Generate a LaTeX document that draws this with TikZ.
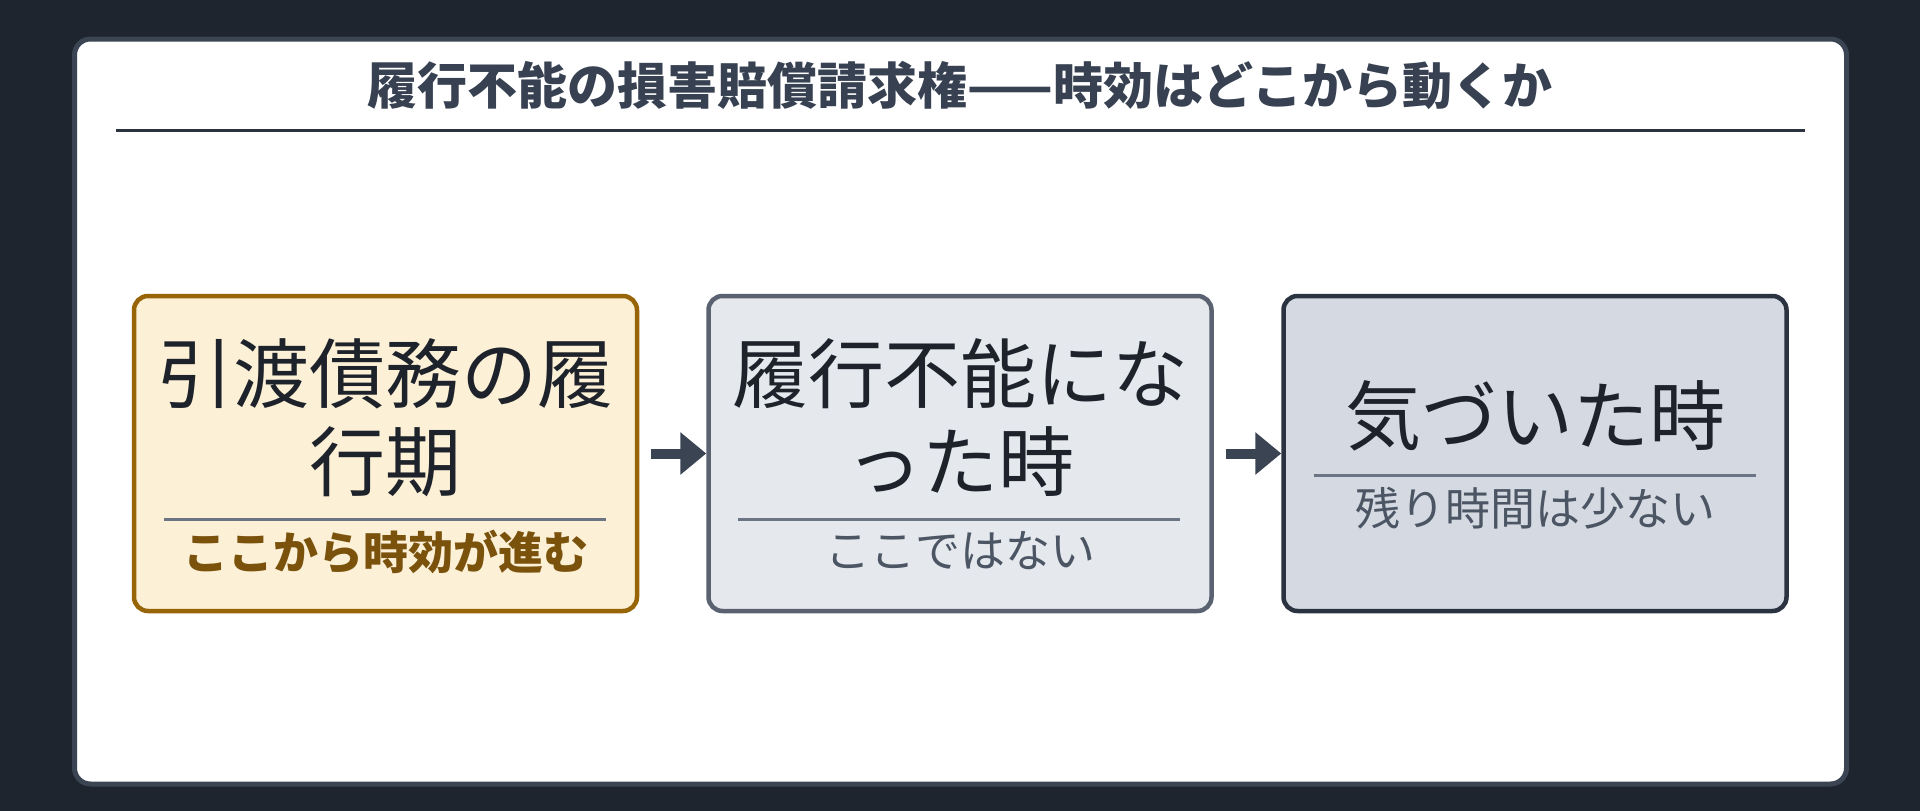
\documentclass[tikz,border=0pt]{standalone}
\usepackage{fontspec}
\setmainfont{Noto Sans CJK JP}
\usetikzlibrary{arrows.meta}
\definecolor{bgdark}{HTML}{1E252F}
\definecolor{panelborder}{HTML}{3B4452}
\definecolor{titlecol}{HTML}{374151}
\definecolor{ruledark}{HTML}{2B3341}
\definecolor{maintext}{HTML}{1E232B}
\definecolor{subgray}{HTML}{4B5563}
\definecolor{subbrown}{HTML}{7A520C}
\definecolor{sepgray}{HTML}{6B7585}
\definecolor{boxAfill}{HTML}{FCF0D6}
\definecolor{boxAdraw}{HTML}{976507}
\definecolor{boxBfill}{HTML}{E5E8ED}
\definecolor{boxBdraw}{HTML}{5A6272}
\definecolor{boxCfill}{HTML}{D5DAE2}
\definecolor{boxCdraw}{HTML}{2B3341}
\definecolor{arrowcol}{HTML}{3B4452}
\tikzset{
  stagebox/.style={rectangle, rounded corners=14pt, line width=4.5pt,
    minimum width=503pt, minimum height=315pt, inner sep=0pt},
  maintxt/.style={anchor=base, inner sep=0pt, text=maintext,
    font=\fontsize{76}{88}\selectfont},
  subtxt/.style={anchor=base, inner sep=0pt, font=\fontsize{45}{54}\selectfont},
  seprule/.style={draw=sepgray, line width=3pt},
  flowarrow/.style={draw=arrowcol, line width=10pt,
    -{Triangle[length=26pt, width=41pt]}, shorten <=12pt}
}
\begin{document}
\begin{tikzpicture}[x=1pt, y=-1pt]
\useasboundingbox (0,0) rectangle (1920,811);
\fill[bgdark] (0,0) rectangle (1920,811);
% panel
\draw[panelborder, fill=white, line width=5pt, rounded corners=16pt] (74.5,39) rectangle (1846.5,784);
% title
\node[anchor=base, inner sep=0pt, text=titlecol, font=\fontsize{50}{60}\selectfont\bfseries] (title) at (960,104) {履行不能の損害賠償請求権——時効はどこから動くか};
\coordinate (rl) at (116,130);
\coordinate (rr) at (1805,130);
\draw[ruledark, line width=3pt] (rl) -- (rr);
% boxes
\node[stagebox, fill=boxAfill, draw=boxAdraw] (b1) at (385.5,453.5) {};
\node[stagebox, fill=boxBfill, draw=boxBdraw] (b2) at (960,453.5) {};
\node[stagebox, fill=boxCfill, draw=boxCdraw] (b3) at (1535,453.5) {};
% box 1 texts
\node[maintxt] (b1l1) at (385.5,402) {引渡債務の履};
\node[maintxt] (b1l2) at (385.5,490) {行期};
\coordinate (s1l) at (164,519);
\coordinate (s1r) at (606,519);
\draw[seprule] (s1l) -- (s1r);
\node[subtxt, text=subbrown, font=\fontsize{45}{54}\selectfont\bfseries] (b1s) at (385.5,569) {ここから時効が進む};
% box 2 texts
\node[maintxt] (b2l1) at (960,402) {履行不能にな};
\node[maintxt] (b2l2) at (960,490) {った時};
\coordinate (s2l) at (738,519);
\coordinate (s2r) at (1180,519);
\draw[seprule] (s2l) -- (s2r);
\node[subtxt, text=subgray] (b2s) at (960,567) {ここではない};
% box 3 texts
\node[maintxt] (b3l1) at (1535,444) {気づいた時};
\coordinate (s3l) at (1314,475);
\coordinate (s3r) at (1756,475);
\draw[seprule] (s3l) -- (s3r);
\node[subtxt, text=subgray] (b3s) at (1535,525) {残り時間は少ない};
% arrows
\draw[flowarrow] (b1.east) -- (b2.west);
\draw[flowarrow] (b2.east) -- (b3.west);
\end{tikzpicture}
\end{document}
